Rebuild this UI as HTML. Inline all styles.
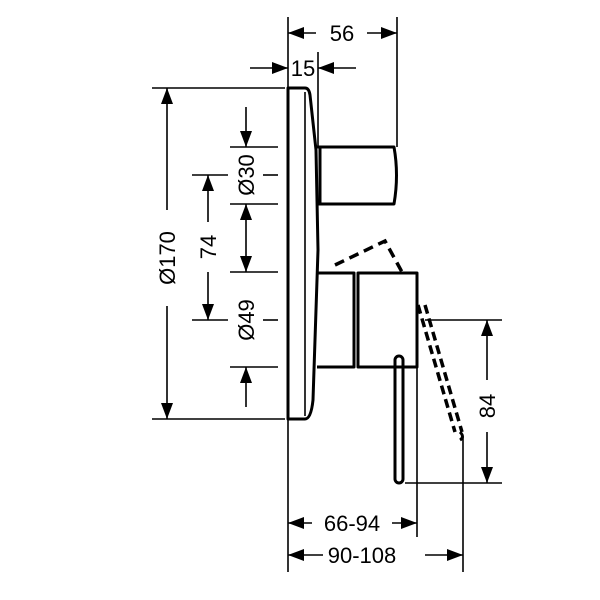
<!DOCTYPE html>
<html><head><style>body{margin:0;background:#fff}svg{display:block}</style></head><body>
<svg width="600" height="600" viewBox="0 0 600 600" xmlns="http://www.w3.org/2000/svg">
<defs>
<marker id="a" viewBox="0 0 16 12" refX="16" refY="6" markerWidth="16" markerHeight="12" markerUnits="userSpaceOnUse" orient="auto-start-reverse"><path d="M0,0 L16,6 L0,12 z" fill="#000"/></marker>
</defs>
<style>
.t{font-family:"Liberation Sans",sans-serif;font-size:22px;fill:#000}
.d{stroke:#000;stroke-width:1.6;fill:none}
.b{stroke:#000;stroke-width:3;fill:none;stroke-linejoin:round}
</style>
<!-- plate -->
<path class="b" d="M288,88 L305,88 Q309,88 310,95 L316,150 L318,250 L313,400 Q311,419 305,419 L288,419 Z"/>
<line class="d" x1="305" y1="92" x2="305" y2="416"/>
<!-- upper knob -->
<path class="b" d="M316,147 L394,147 Q399,175 394,204 L318,204"/>
<line class="b" x1="320" y1="147" x2="320" y2="204"/>
<!-- lower body -->
<path class="b" d="M317,273 L354,273 L354,367 L317,367"/>
<path class="b" d="M358,273 L417,273 L417,367 L358,367 Z"/>
<rect class="b" x="395" y="356" width="8" height="127" rx="4"/>
<!-- dashed handle -->
<path stroke="#000" stroke-width="3.5" fill="none" stroke-dasharray="10,6" d="M335,265 L385,241 L402,272"/>
<path stroke="#000" stroke-width="3.5" fill="none" stroke-dasharray="9,5" d="M418,305 L455,432"/>
<path stroke="#000" stroke-width="3.5" fill="none" stroke-dasharray="9,5" d="M425,305 L462,432"/>
<path class="b" d="M460,432 Q465,437 460,440"/>
<!-- 56 / 15 -->
<line class="d" x1="288" y1="17" x2="288" y2="88"/>
<line class="d" x1="397" y1="17" x2="397" y2="147"/>
<line class="d" x1="288" y1="33" x2="316" y2="33" marker-start="url(#a)"/>
<line class="d" x1="367" y1="33" x2="397" y2="33" marker-end="url(#a)"/>
<text class="t" x="342" y="41" text-anchor="middle">56</text>
<line class="d" x1="318" y1="52" x2="318" y2="147"/>
<line class="d" x1="250" y1="68" x2="288" y2="68" marker-end="url(#a)"/>
<line class="d" x1="318" y1="68" x2="356" y2="68" marker-start="url(#a)"/>
<text class="t" x="303" y="76" text-anchor="middle">15</text>
<!-- Ø170 -->
<line class="d" x1="152" y1="88" x2="285" y2="88"/>
<line class="d" x1="152" y1="419" x2="285" y2="419"/>
<line class="d" x1="167" y1="88" x2="167" y2="210" marker-start="url(#a)"/>
<line class="d" x1="167" y1="306" x2="167" y2="419" marker-end="url(#a)"/>
<text class="t" transform="translate(175,258) rotate(-90)" text-anchor="middle">Ø170</text>
<!-- 74 -->
<line class="d" x1="192" y1="175" x2="228" y2="175"/>
<line class="d" x1="192" y1="320" x2="228" y2="320"/>
<line class="d" x1="208" y1="175" x2="208" y2="222" marker-start="url(#a)"/>
<line class="d" x1="208" y1="272" x2="208" y2="320" marker-end="url(#a)"/>
<text class="t" transform="translate(216,247) rotate(-90)" text-anchor="middle">74</text>
<!-- Ø30 / Ø49 -->
<line class="d" x1="230" y1="147" x2="278" y2="147"/>
<line class="d" x1="230" y1="204" x2="278" y2="204"/>
<line class="d" x1="230" y1="272" x2="278" y2="272"/>
<line class="d" x1="230" y1="367" x2="278" y2="367"/>
<line class="d" x1="263" y1="175" x2="278" y2="175"/>
<line class="d" x1="263" y1="320" x2="278" y2="320"/>
<line class="d" x1="246" y1="107" x2="246" y2="147" marker-end="url(#a)"/>
<line class="d" x1="246" y1="204" x2="246" y2="272" marker-start="url(#a)" marker-end="url(#a)"/>
<line class="d" x1="246" y1="407" x2="246" y2="367" marker-end="url(#a)"/>
<text class="t" transform="translate(254,175) rotate(-90)" text-anchor="middle">Ø30</text>
<text class="t" transform="translate(254,320) rotate(-90)" text-anchor="middle">Ø49</text>
<!-- 84 -->
<line class="d" x1="425" y1="320" x2="502" y2="320"/>
<line class="d" x1="405" y1="483" x2="502" y2="483"/>
<line class="d" x1="487" y1="320" x2="487" y2="380" marker-start="url(#a)"/>
<line class="d" x1="487" y1="432" x2="487" y2="483" marker-end="url(#a)"/>
<text class="t" transform="translate(495,406) rotate(-90)" text-anchor="middle">84</text>
<!-- bottom dims -->
<line class="d" x1="288" y1="419" x2="288" y2="572"/>
<line class="d" x1="417" y1="367" x2="417" y2="537"/>
<line class="d" x1="463" y1="437" x2="463" y2="572"/>
<line class="d" x1="288" y1="523" x2="312" y2="523" marker-start="url(#a)"/>
<line class="d" x1="392" y1="523" x2="417" y2="523" marker-end="url(#a)"/>
<text class="t" x="352" y="531" text-anchor="middle">66-94</text>
<line class="d" x1="288" y1="555" x2="323" y2="555" marker-start="url(#a)"/>
<line class="d" x1="425" y1="555" x2="463" y2="555" marker-end="url(#a)"/>
<text class="t" x="362" y="563" text-anchor="middle">90-108</text>
</svg>
</body></html>
